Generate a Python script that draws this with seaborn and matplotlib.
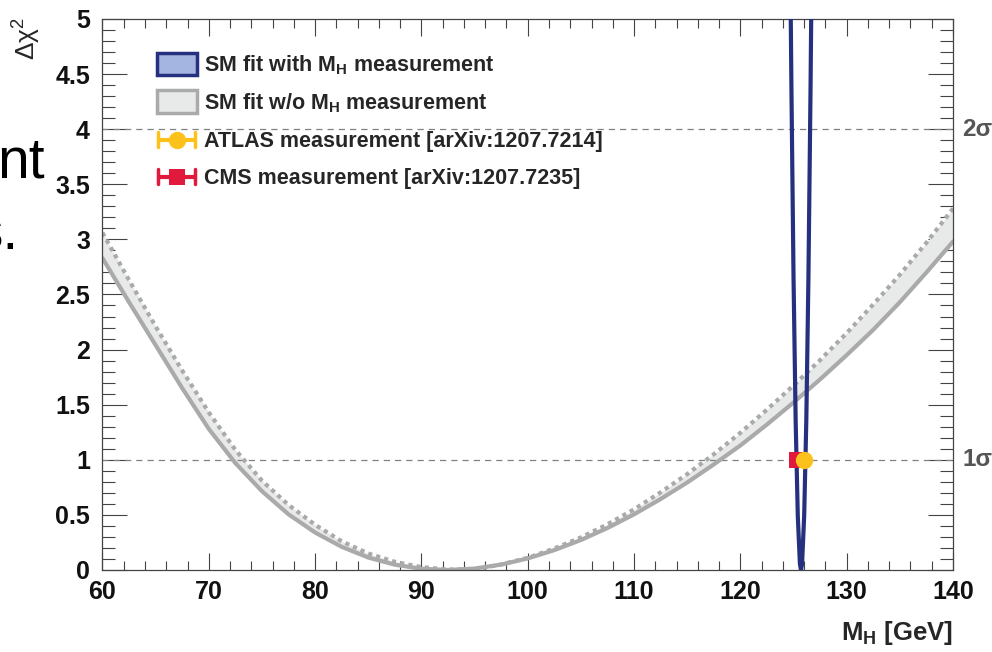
import matplotlib
matplotlib.use("Agg")
import matplotlib.pyplot as plt
from matplotlib.patches import Patch
from matplotlib.lines import Line2D
from matplotlib.legend_handler import HandlerBase
from matplotlib.ticker import MultipleLocator
import seaborn as sns

# ---------------- data ----------------
mh_grid = [60, 62.5, 65, 67.5, 70, 72.5, 75, 77.5, 80, 82.5, 85, 87.5, 90, 92.5,
           95, 97.5, 100, 102.5, 105, 107.5, 110, 112.5, 115, 117.5, 120, 122.5,
           125, 127.5, 130, 132.5, 135, 137.5, 140]
chi2_wo_solid = [2.83, 2.43, 2.04, 1.65, 1.28, 0.97, 0.715, 0.505, 0.34, 0.21, 0.113,
                 0.048, 0.011, 0.0, 0.013, 0.049, 0.105, 0.18, 0.272, 0.381, 0.505,
                 0.644, 0.794, 0.958, 1.13, 1.32, 1.52, 1.73, 1.95, 2.18, 2.43, 2.70,
                 2.98]
chi2_wo_dotted = [3.06, 2.63, 2.21, 1.81, 1.43, 1.09, 0.81, 0.59, 0.41, 0.26, 0.15,
                  0.074, 0.026, 0.004, 0.005, 0.05, 0.11, 0.195, 0.295, 0.415, 0.55,
                  0.705, 0.87, 1.05, 1.245, 1.455, 1.675, 1.905, 2.15, 2.41, 2.68,
                  2.97, 3.28]

mh_with = [124.7, 124.8, 125.0, 125.2, 125.4, 125.6, 125.7, 125.8, 126.0, 126.2,
           126.4, 126.6, 126.7]
chi2_with = [5.41, 4.38, 2.65, 1.35, 0.49, 0.054, 0.0, 0.054, 0.49, 1.35, 2.65,
             4.38, 5.41]

atlas_mh, atlas_err, atlas_y = [126.0], [0.6], [1.0]
cms_mh, cms_err, cms_y = [125.3], [0.6], [1.0]

sigma_levels = [1, 4]
sigma_labels = ["1σ", "2σ"]

labels = ["SM fit with $\\mathbf{M_H}$ measurement",
          "SM fit w/o $\\mathbf{M_H}$ measurement",
          "ATLAS measurement [arXiv:1207.7214]",
          "CMS measurement [arXiv:1207.7235]"]

# ---------------- style ----------------
sns.set_style("ticks")
plt.rcParams["font.family"] = ["Liberation Sans", "DejaVu Sans"]
plt.rcParams["mathtext.fontset"] = "custom"
plt.rcParams["mathtext.rm"] = "Liberation Sans"
plt.rcParams["mathtext.it"] = "Liberation Sans:italic"
plt.rcParams["mathtext.bf"] = "Liberation Sans:bold"

BLUE = "#25307e"
BLUE_FILL = "#a3b5e0"
GRAY = "#aaaaaa"
GRAY_FILL = "#e8eaea"
YELLOW = "#fcc21b"
RED = "#e0193d"
FRAME = "#444444"

fig = plt.figure(figsize=(9.92, 6.52), dpi=100)
ax = fig.add_axes([0.1033, 0.1258, 0.8574, 0.8451])

# band w/o MH
ax.fill_between(mh_grid, chi2_wo_solid, chi2_wo_dotted, color=GRAY_FILL, lw=0, zorder=1)
sns.lineplot(x=mh_grid, y=chi2_wo_dotted, ax=ax, color=GRAY, linewidth=3.0,
             linestyle=(0, (1, 1)), estimator=None, sort=False, zorder=2)
sns.lineplot(x=mh_grid, y=chi2_wo_solid, ax=ax, color=GRAY, linewidth=3.0,
             estimator=None, sort=False, zorder=2)

# sigma lines
for lvl in sigma_levels:
    ax.axhline(lvl, color="#808080", lw=0.9, ls=(0, (5, 4)), zorder=1.5)

# fit with MH
sns.lineplot(x=mh_with, y=chi2_with, ax=ax, color=BLUE, linewidth=3.0,
             estimator=None, sort=False, zorder=3)

# measurements
ax.errorbar(cms_mh, cms_y, xerr=cms_err, fmt="s", color=RED, ms=11.5,
            mew=0, elinewidth=2.5, capsize=3, capthick=2.5, zorder=4)
ax.errorbar(atlas_mh, atlas_y, xerr=atlas_err, fmt="o", color=YELLOW, ms=12.5,
            mew=0, elinewidth=2.5, capsize=3, capthick=2.5, zorder=5)

ax.set_xlim(60, 140)
ax.set_ylim(0, 5)
ax.set_xlabel("")
ax.set_ylabel("")

# ticks ROOT-like
ax.xaxis.set_major_locator(MultipleLocator(10))
ax.xaxis.set_minor_locator(MultipleLocator(2))
ax.yaxis.set_major_locator(MultipleLocator(0.5))
ax.yaxis.set_minor_locator(MultipleLocator(0.1))
ax.tick_params(axis="both", which="both", direction="in", top=True, right=True,
               color=FRAME, width=0.8)
ax.tick_params(axis="x", which="major", length=12.5, pad=7)
ax.tick_params(axis="x", which="minor", length=6.5)
ax.tick_params(axis="y", which="major", length=18, pad=9)
ax.tick_params(axis="y", which="minor", length=9.5)
ax.set_xticks([60, 70, 80, 90, 100, 110, 120, 130, 140])
ax.set_xticklabels(["60", "70", "80", "90", "100", "110", "120", "130", "140"])
ax.set_yticks([0, 0.5, 1, 1.5, 2, 2.5, 3, 3.5, 4, 4.5, 5])
ax.set_yticklabels(["0", "0.5", "1", "1.5", "2", "2.5", "3", "3.5", "4", "4.5", "5"])
for lab in ax.get_xticklabels() + ax.get_yticklabels():
    lab.set_fontsize(18)
    lab.set_fontweight("bold")
    lab.set_color("#111111")
for sp in ax.spines.values():
    sp.set_color(FRAME)
    sp.set_linewidth(0.9)
    sp.set_visible(True)

# sigma labels at right
for lvl, txt in zip(sigma_levels, sigma_labels):
    ax.text(1.011, lvl, txt, transform=ax.get_yaxis_transform(), ha="left", va="center",
            fontsize=17.5, fontweight="bold", color="#555555", clip_on=False)

# axis titles
fig.text(0.9607, 0.029, "$\\mathbf{M_H}$ [GeV]", ha="right", va="center",
         fontsize=18.5, fontweight="bold")
fig.text(0.027, 0.974, "$\\mathregular{\\Delta\\chi^2}$", ha="center", va="top",
         rotation=90, fontsize=19)

# stray slide text at left edge (cut by the picture edge, as in the reference)
fig.text(-0.003, 1 - 177 / 652, "nt", ha="left", va="baseline", fontsize=41, color="black")
fig.text(0.019, 1 - 250 / 652, "s.", ha="right", va="baseline", fontsize=41, color="black")


# legend
class EBHandler(HandlerBase):
    def __init__(self, color, marker, ms):
        super().__init__()
        self.color, self.marker, self.ms = color, marker, ms

    def create_artists(self, legend, orig_handle, xdescent, ydescent, width, height,
                       fontsize, trans):
        y = height / 2 - ydescent
        x0, x1 = -xdescent, width - xdescent
        h = height * 0.32
        bar = Line2D([x0, x1], [y, y], color=self.color, lw=3.0, solid_capstyle="butt")
        cl = Line2D([x0 + 1, x0 + 1], [y - h, y + h], color=self.color, lw=2.5)
        cr = Line2D([x1 - 1, x1 - 1], [y - h, y + h], color=self.color, lw=2.5)
        mk = Line2D([(x0 + x1) / 2], [y], marker=self.marker, ms=self.ms, mew=0,
                    color=self.color, ls="none")
        arts = [bar, cl, cr, mk]
        for a in arts:
            a.set_transform(trans)
        return arts


h_with = Patch(facecolor=BLUE_FILL, edgecolor=BLUE, lw=2.5)
h_wo = Patch(facecolor=GRAY_FILL, edgecolor=GRAY, lw=2.5)
h_atlas = Line2D([], [], color=YELLOW)
h_cms = Line2D([], [], color=RED)
leg = ax.legend([h_with, h_wo, h_atlas, h_cms], labels, loc="upper left",
                bbox_to_anchor=(0.064, 0.939), frameon=False, borderpad=0,
                borderaxespad=0, handlelength=1.85, handleheight=1.25,
                handletextpad=0.35, labelspacing=0.63,
                prop={"size": 15.5, "weight": "bold"},
                handler_map={h_atlas: EBHandler(YELLOW, "o", 12.5),
                             h_cms: EBHandler(RED, "s", 11.5)})
leg.set_zorder(10)

fig.savefig("out.png", dpi=100)
